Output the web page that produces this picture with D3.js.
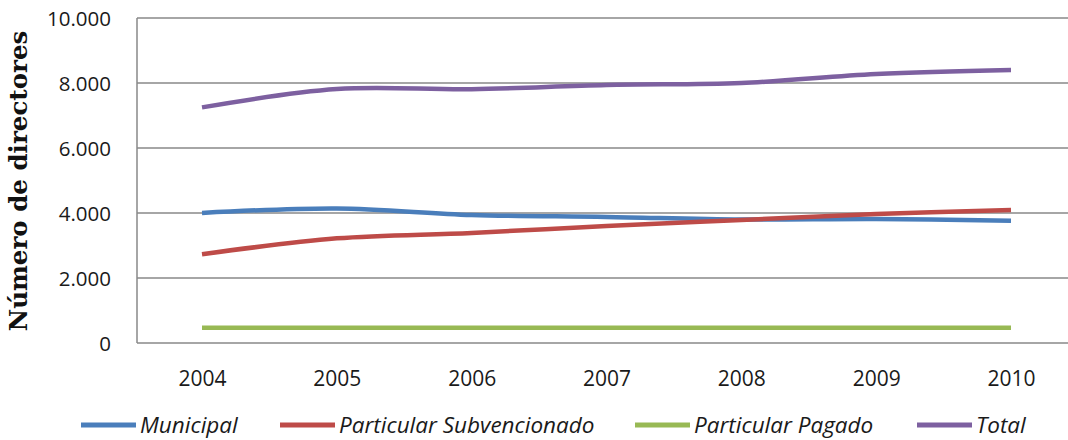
<!DOCTYPE html>
<html>
<head>
<meta charset="utf-8">
<script src="https://cdn.jsdelivr.net/npm/d3@7"></script>
<style>
  html, body { margin: 0; padding: 0; background: #fff; }
  svg { display: block; }
</style>
</head>
<body>
<svg id="chart" width="1068" height="440"></svg>
<script>
// Años del periodo
const years = ["2004", "2005", "2006", "2007", "2008", "2009", "2010"];

// Número de directores por dependencia
const municipal      = [4000, 4140, 3940, 3880, 3800, 3815, 3765];
const subvencionado  = [2730, 3220, 3385, 3600, 3785, 3970, 4095];
const pagado         = [470, 470, 470, 470, 470, 470, 470];
const total          = [7250, 7815, 7810, 7940, 8000, 8275, 8400];

const seriesNames  = ["Municipal", "Particular Subvencionado", "Particular Pagado", "Total"];
const seriesValues = [municipal, subvencionado, pagado, total];
const seriesColors = ["#4a7ebb", "#be4b48", "#98b954", "#7d60a0"];

const yTicks = [0, 2000, 4000, 6000, 8000, 10000];

const svg = d3.select("#chart");
const W = 1068;

const plot = { left: 137, top: 18, bottom: 343 };

const x = d3.scalePoint().domain(years).range([202, 1011]);
const y = d3.scaleLinear().domain([0, 10000]).range([plot.bottom, plot.top]);

const fmt = d => d3.format(",")(d).replace(/,/g, ".");
const sans = "'Open Sans', 'Noto Sans', sans-serif";

// Líneas de la cuadrícula horizontal
svg.append("g")
  .selectAll("line")
  .data(yTicks)
  .join("line")
  .attr("x1", plot.left).attr("x2", W)
  .attr("y1", d => y(d)).attr("y2", d => y(d))
  .attr("stroke", "#888")
  .attr("stroke-width", 1.5);

// Eje vertical
svg.append("line")
  .attr("x1", plot.left).attr("x2", plot.left)
  .attr("y1", plot.top).attr("y2", plot.bottom)
  .attr("stroke", "#888")
  .attr("stroke-width", 1.5);

// Etiquetas del eje Y
const yAxis = d3.axisLeft(y).tickValues(yTicks).tickFormat(fmt).tickSize(0).tickPadding(0);
const gy = svg.append("g").attr("transform", "translate(111,0)").call(yAxis);
gy.select(".domain").remove();
gy.selectAll("text")
  .attr("font-family", sans)
  .attr("font-size", 20.5)
  .attr("fill", "#1a1a1a")
  .attr("dy", "0.36em");

// Etiquetas del eje X
const xAxis = d3.axisBottom(x).tickSize(0).tickPadding(0);
const gx = svg.append("g").attr("transform", "translate(0,371)").call(xAxis);
gx.select(".domain").remove();
gx.selectAll("text")
  .attr("font-family", sans)
  .attr("font-size", 21)
  .attr("fill", "#1a1a1a")
  .attr("dy", "0.72em");

// Título del eje Y
svg.append("text")
  .attr("transform", "translate(27,181) rotate(-90)")
  .attr("text-anchor", "middle")
  .attr("font-family", "'DejaVu Serif', serif")
  .attr("font-weight", "bold")
  .attr("font-size", 24.5)
  .attr("fill", "#111")
  .text("Número de directores");

// Series
const line = d3.line()
  .x((d, i) => x(years[i]))
  .y(d => y(d))
  .curve(d3.curveCatmullRom.alpha(0.5));

svg.append("g")
  .selectAll("path")
  .data(seriesValues)
  .join("path")
  .attr("d", d => line(d))
  .attr("fill", "none")
  .attr("stroke", (d, i) => seriesColors[i])
  .attr("stroke-width", 4.5)
  .attr("stroke-linejoin", "round");

// Leyenda
const legendX = [81, 280, 635, 917];
const legend = svg.append("g");
seriesNames.forEach((name, i) => {
  const g = legend.append("g").attr("transform", `translate(${legendX[i]},425)`);
  g.append("line")
    .attr("x1", 0).attr("x2", 55)
    .attr("y1", 0).attr("y2", 0)
    .attr("stroke", seriesColors[i])
    .attr("stroke-width", 5);
  g.append("text")
    .attr("x", 59)
    .attr("y", 0)
    .attr("dy", "0.36em")
    .attr("font-family", sans)
    .attr("font-style", "italic")
    .attr("font-size", 22.5)
    .attr("fill", "#1a1a1a")
    .text(name);
});
</script>
</body>
</html>
